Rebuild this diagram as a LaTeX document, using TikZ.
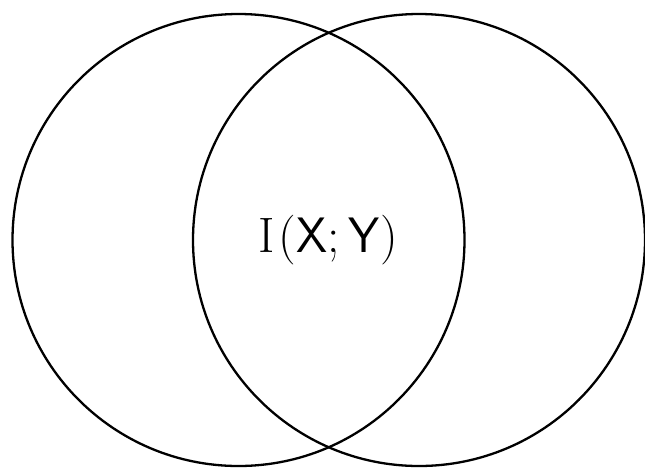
\documentclass[tikz,border=0pt]{standalone}
\usepackage{amsmath}
\begin{document}
\begin{tikzpicture}[x=1pt,y=-1pt,
 every node/.style={inner sep=0pt,outer sep=0pt},
 setcircle/.style={circle,draw,line width=2.3pt,minimum size=452pt}]
  \useasboundingbox (0,0) rectangle (645,467);
  \node[setcircle] (X) at (238.5,240) {};
  \node[setcircle] (Y) at (419,240) {};
  \node[font=\huge,scale=2.4] (mi) at (328,240) {$\mathrm{I}\mkern1.5mu(\mathsf{X};\mathsf{Y})$};
\end{tikzpicture}
\end{document}
